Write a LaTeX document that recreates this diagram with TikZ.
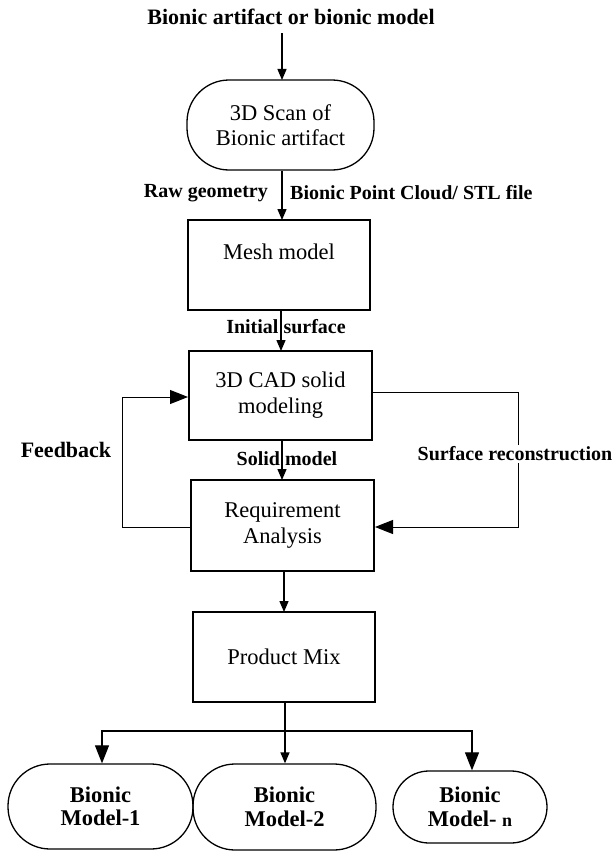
\documentclass[tikz,border=0pt]{standalone}
\usepackage{fontspec}
\setmainfont{Liberation Serif}
\usetikzlibrary{arrows.meta}
\begin{document}
\begin{tikzpicture}[x=1pt,y=-1pt,
  boxnode/.style={draw,line width=2pt,minimum width=182pt,minimum height=90pt,inner sep=0pt,align=center,font=\fontsize{22.5}{26}\selectfont},
  termnode/.style={draw,line width=1.3pt,rounded corners=42pt,inner sep=0pt,align=center},
  lbl/.style={font=\fontsize{20}{24}\selectfont\bfseries,inner sep=0pt},
  conn/.style={line width=1.3pt,-{Triangle[length=11pt,width=9pt]}},
  bigconn/.style={line width=1.1pt,-{Triangle[length=18pt,width=14pt]}}
]
\useasboundingbox (0,0) rectangle (612,851);
\node[font=\fontsize{22}{26}\selectfont\bfseries,inner sep=0pt] (title) at (291,17) {Bionic artifact or bionic model};
\node[termnode,minimum width=187pt,minimum height=90pt,font=\fontsize{22.5}{25}\selectfont] (scan) at (280.5,125) {\raisebox{-3pt}{3D Scan of}\\\raisebox{-3pt}{Bionic artifact}};
\node[boxnode] (mesh) at (279,265) {Mesh model\\\mbox{}};
\node[boxnode,minimum width=183pt,minimum height=89pt] (cad) at (280.5,395.5) {3D CAD solid\\modeling};
\node[boxnode,minimum width=183pt,minimum height=91pt] (req) at (282.5,525.5) {Requirement\\Analysis};
\node[boxnode] (pm) at (284,657) {Product Mix};
\node[termnode,minimum width=185pt,minimum height=85pt,font=\fontsize{22.5}{23.5}\selectfont\bfseries] (t1) at (100.5,806.5) {Bionic\\Model-1};
\node[termnode,minimum width=183pt,minimum height=86pt,font=\fontsize{22.5}{23.5}\selectfont\bfseries] (t2) at (284.5,807) {Bionic\\Model-2};
\node[termnode,rounded corners=36pt,minimum width=154pt,minimum height=72pt,font=\fontsize{22.5}{23.5}\selectfont\bfseries] (tn) at (470,807) {Bionic\\Model- {\fontsize{18}{20}\selectfont n}};

\draw[conn] (title.south -| 282,0) ++(0,8) -- (282,80);
\draw[conn] (scan.south -| 282,0) -- (282,220);
\draw[conn] (mesh.south -| 281,0) -- (281,351);
\draw[conn] (cad.south -| 282,0) -- (282,480);
\draw[conn] (req.south -| 284,0) -- (284,612);
\draw[conn] (pm.south -| 285,0) -- (t2.north -| 285,0);

\node[lbl,anchor=east] (rawg) at (268,193) {Raw geometry};
\node[lbl,anchor=west] (bpc) at (290,193) {Bionic Point Cloud/ STL file};
\node[lbl] (inits) at (286,327) {Initial surface};
\node[lbl] (solidm) at (287,459) {Solid model};

\coordinate (fbb) at (122,527);
\draw[bigconn,line width=1pt] (req.west |- fbb) -- (fbb) |- (cad.west |- 0,397);
\node[font=\fontsize{22}{26}\selectfont\bfseries,inner sep=0pt] (fb) at (66,450) {Feedback};

\coordinate (srt) at (518,392);
\coordinate (srb) at (518,527);
\draw[bigconn,line width=1pt] (cad.east |- srt) -- (srt) -- (srb) -- (req.east |- srb);
\node[lbl,fill=white,inner sep=2pt] (surf) at (515,454) {Surface reconstruction};

\coordinate (split) at (285,731);
\draw[bigconn] (split) -| (t1.north -| 102,0);
\draw[bigconn] (split) -| (tn.north -| 472,0);
\end{tikzpicture}
\end{document}
